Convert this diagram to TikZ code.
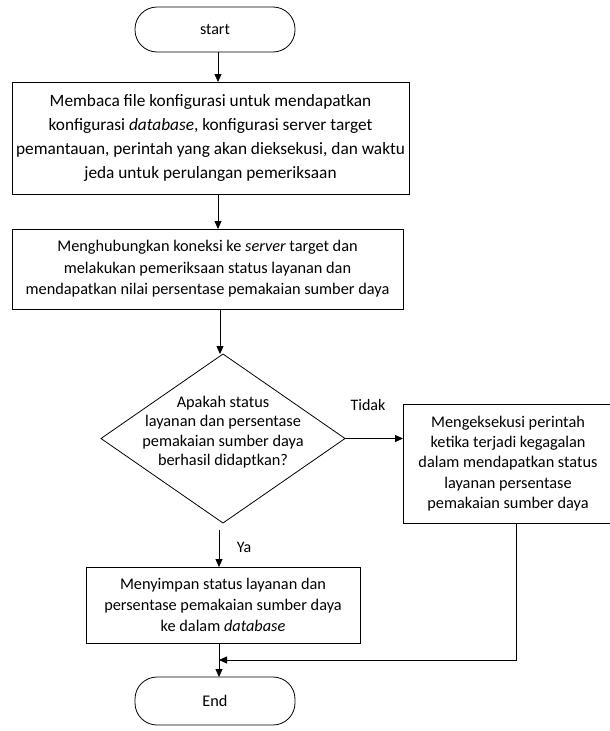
\documentclass[tikz,border=0pt]{standalone}
\usepackage{fontspec}
\setmainfont{Carlito}
\usetikzlibrary{arrows.meta,shapes.geometric}
\tikzset{
  every node/.style={inner sep=0pt,outer sep=0pt},
  procbox/.style={draw=black,line width=0.8pt,rectangle,align=center},
  termbox/.style={draw=black,line width=0.8pt,rectangle,rounded corners=22pt,align=center},
  decision/.style={draw=black,line width=0.8pt,diamond,minimum width=244pt,minimum height=169pt},
  txt/.style={align=center},
  lbl/.style={font=\fontsize{16}{18}\selectfont},
  arr/.style={line width=0.8pt,-{Triangle[length=8pt,width=7pt]}},
  ln/.style={line width=0.8pt}
}
\begin{document}
\begin{tikzpicture}[x=1pt,y=-1pt]
\useasboundingbox[fill=white] (0,0) rectangle (610,731);
\node[termbox,minimum width=160pt,minimum height=45pt,font=\fontsize{16}{18}\selectfont] (start) at (215,29.5) {start};
\node[procbox,minimum width=397pt,minimum height=112pt,font=\fontsize{17.3}{24}\selectfont] (b1) at (210.5,138)
  {Membaca file konfigurasi untuk mendapatkan\\konfigurasi \textit{database}, konfigurasi server target\\pemantauan, perintah yang akan dieksekusi, dan waktu\\jeda untuk perulangan pemeriksaan};
\node[procbox,minimum width=391pt,minimum height=80pt,font=\fontsize{16.3}{21.5}\selectfont] (b2) at (207.5,269)
  {Menghubungkan koneksi ke \textit{server} target dan\\melakukan pemeriksaan status layanan dan\\mendapatkan nilai persentase pemakaian sumber daya};
\node[decision] (d) at (223,438.5) {};
\node[txt,font=\fontsize{16.3}{19.5}\selectfont] (dt) at (223,432)
  {Apakah status\\layanan dan persentase\\pemakaian sumber daya\\berhasil didaptkan?};
\node[procbox,minimum width=210pt,minimum height=119pt,font=\fontsize{16.3}{20.3}\selectfont] (b3) at (508,463.5)
  {Mengeksekusi perintah\\ketika terjadi kegagalan\\dalam mendapatkan status\\layanan persentase\\pemakaian sumber daya};
\node[procbox,minimum width=274pt,minimum height=76pt,font=\fontsize{16.3}{21}\selectfont] (b4) at (223,605)
  {Menyimpan status layanan dan\\persentase pemakaian sumber daya\\ke dalam \textit{database}};
\node[termbox,minimum width=160pt,minimum height=48pt,font=\fontsize{16.3}{18}\selectfont] (end) at (215,701) {End};
\node[lbl] (tidak) at (368,405) {Tidak};
\node[lbl] (ya) at (244,547) {Ya};
\coordinate (mrg) at (219,660);
\draw[arr] ([xshift=3pt]start.south) -- ([xshift=3pt]start.south |- b1.north);
\draw[arr] ([xshift=7.5pt]b1.south) -- ([xshift=7.5pt]b1.south |- b2.north);
\draw[arr] ([xshift=12.5pt]b2.south) -- ([xshift=12.5pt]b2.south |- d.north);
\draw[arr] (d.east) -- (d.east -| b3.west);
\draw[arr] ([xshift=-4pt,yshift=-7pt]d.south) -- ([xshift=-4pt]b4.north);
\draw[arr] ([xshift=-4pt]b4.south) -- ([xshift=-4pt]b4.south |- end.north);
\draw[arr] ([xshift=8pt]b3.south) |- (mrg);
\end{tikzpicture}
\end{document}
